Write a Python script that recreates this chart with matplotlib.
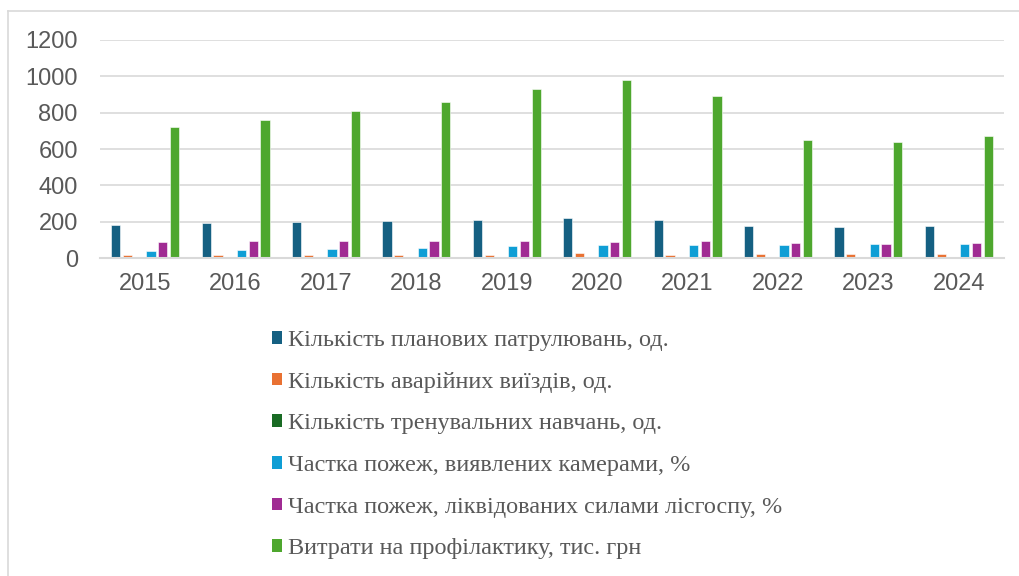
import matplotlib.pyplot as plt
from matplotlib.patches import Patch
from matplotlib.lines import Line2D
import numpy as np

years = ["2015", "2016", "2017", "2018", "2019", "2020", "2021", "2022", "2023", "2024"]

patrols = [180, 193, 198, 202, 211, 220, 207, 176, 171, 174]
emergency_trips = [15, 15, 16, 15, 15, 26, 15, 22, 22, 20]
trainings = [4, 4, 4, 4, 4, 5, 4, 4, 4, 4]
camera_share = [37, 44, 50, 55, 64, 70, 71, 73, 75, 77]
forestry_share = [90, 93, 93, 95, 95, 88, 95, 82, 79, 82]
prevention_costs = [720, 760, 810, 860, 930, 980, 890, 650, 640, 670]

series_labels = [
    "Кількість планових патрулювань, од.",
    "Кількість аварійних виїздів, од.",
    "Кількість тренувальних навчань, од.",
    "Частка пожеж, виявлених камерами, %",
    "Частка пожеж, ліквідованих силами лісгоспу, %",
    "Витрати на профілактику, тис. грн",
]
colors = ["#156082", "#E97132", "#196B24", "#0F9ED5", "#A02B93", "#4EA72E"]

series = [patrols, emergency_trips, trainings, camera_share, forestry_share, prevention_costs]

W, H = 1019, 576
fig = plt.figure(figsize=(W / 100, H / 100), dpi=100)
ax = fig.add_axes([100 / W, 1 - 258 / H, 904 / W, 218 / H])

x = np.arange(len(years))
slot = 0.13
width = 0.103
for i, (vals, c) in enumerate(zip(series, colors)):
    ax.bar(x + (i - 2.5) * slot, vals, width, color=c,
           edgecolor="white", linewidth=0.4)

ax.set_xlim(-0.5, len(years) - 0.5)
ax.set_ylim(0, 1200)
ax.set_yticks(range(0, 1201, 200))
ax.set_xticks(x)
ax.set_xticklabels(years)
ax.grid(axis="y", color="#D9D9D9", linewidth=1.2)
ax.set_axisbelow(True)
for s in ["top", "right", "left"]:
    ax.spines[s].set_visible(False)
ax.spines["bottom"].set_color("#D9D9D9")
ax.spines["bottom"].set_linewidth(1.5)
ax.tick_params(length=0, labelcolor="#595959", labelsize=17)
ax.tick_params(axis="y", pad=16)
ax.tick_params(axis="x", pad=11)
for lab in ax.get_xticklabels() + ax.get_yticklabels():
    lab.set_family("Liberation Sans")

# chart border (top and left edges visible in the crop)
fig.add_artist(Line2D([8 / W, 8 / W], [0, 1 - 11 / H], color="#D9D9D9", lw=1.2))
fig.add_artist(Line2D([8 / W, 1], [1 - 11 / H, 1 - 11 / H], color="#D9D9D9", lw=1.2))

handles = [Patch(facecolor=c, edgecolor="none") for c in colors]
fig.legend(handles, series_labels, loc="upper left",
           bbox_to_anchor=(260 / W, 1 - 318 / H), frameon=False,
           prop={"family": "Liberation Serif", "size": 17.5},
           labelcolor="#595959", handlelength=0.42, handleheight=0.42,
           handletextpad=0.22, labelspacing=0.85, borderpad=0)

fig.savefig("out.png", dpi=100)
